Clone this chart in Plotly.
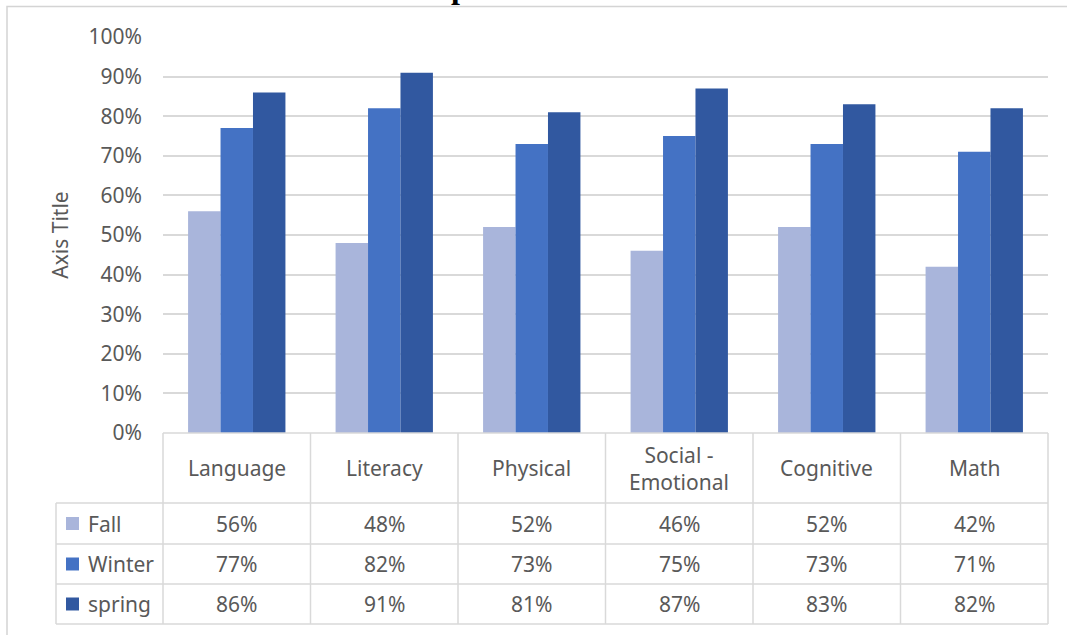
import plotly.graph_objects as go

# ---- data ----
categories = ["Language", "Literacy", "Physical", "Social - Emotional", "Cognitive", "Math"]
series_names = ["Fall", "Winter", "spring"]
fall = [0.56, 0.48, 0.52, 0.46, 0.52, 0.42]
winter = [0.77, 0.82, 0.73, 0.75, 0.73, 0.71]
spring = [0.86, 0.91, 0.81, 0.87, 0.83, 0.82]
y_tick_values = [0.0, 0.1, 0.2, 0.3, 0.4, 0.5, 0.6, 0.7, 0.8, 0.9, 1.0]
axis_title = "Axis Title"
title_fragment = "p"

# ---- style ----
colors = ["#a9b5db", "#4472c4", "#3158a0"]
W, H = 1067, 635
FONT = "Noto Sans"
TXT = "#595959"
LINE = "#d9d9d9"
FS = 21

def px(x):
    return x / W

def py(y):
    return 1 - y / H

plot_l, plot_r = 163, 1048
y_zero, y_full = 433, 37
cat_bot = 503
row_bots = [544, 584, 624]
legend_l = 56

xdom = [px(plot_l), px(plot_r)]
ydom = [py(y_zero), py(y_full)]
ncat = len(categories)
colw = (plot_r - plot_l) / ncat

series_vals = [fall, winter, spring]

fig = go.Figure()
for name, vals, c in zip(series_names, series_vals, colors):
    fig.add_trace(go.Bar(x=categories, y=vals, name=name, marker=dict(color=c, line=dict(width=0)),
                         hoverinfo="x+y+name"))

shapes = []
line = dict(color=LINE, width=1.5)
shapes.append(dict(type="line", xref="paper", yref="paper", x0=px(plot_l), x1=px(plot_r),
                   y0=py(y_zero), y1=py(y_zero), line=line))
for yb in [cat_bot] + row_bots:
    shapes.append(dict(type="line", xref="paper", yref="paper", x0=px(legend_l), x1=px(plot_r),
                       y0=py(yb), y1=py(yb), line=line))
for k in range(ncat + 1):
    xx = plot_l + k * colw
    shapes.append(dict(type="line", xref="paper", yref="paper", x0=px(xx), x1=px(xx),
                       y0=py(y_zero), y1=py(row_bots[-1]), line=line))
shapes.append(dict(type="line", xref="paper", yref="paper", x0=px(legend_l), x1=px(legend_l),
                   y0=py(cat_bot), y1=py(row_bots[-1]), line=line))
# chart frame (left and top edges visible)
shapes.append(dict(type="rect", xref="paper", yref="paper", x0=px(7), x1=px(W + 20),
                   y0=py(H + 20), y1=py(6.5), line=dict(color="#d4d4d4", width=1.5)))

annotations = []
for k, cat in enumerate(categories):
    label = cat.replace(" - ", " -<br>")
    annotations.append(dict(x=px(plot_l + (k + 0.5) * colw), y=py((y_zero + cat_bot) / 2),
                            xref="paper", yref="paper", text=label, showarrow=False,
                            font=dict(family=FONT, size=FS, color=TXT), xanchor="center",
                            yanchor="middle"))
row_tops = [cat_bot] + row_bots[:-1]
for i, (name, vals, c) in enumerate(zip(series_names, series_vals, colors)):
    yc = (row_tops[i] + row_bots[i]) / 2
    shapes.append(dict(type="rect", xref="paper", yref="paper", x0=px(66), x1=px(79),
                       y0=py(yc + 6.5), y1=py(yc - 6.5), fillcolor=c, line=dict(width=0)))
    annotations.append(dict(x=px(86), y=py(yc), xref="paper", yref="paper", text=name,
                            showarrow=False, font=dict(family=FONT, size=FS, color=TXT),
                            xanchor="left", yanchor="middle"))
    for k, v in enumerate(vals):
        annotations.append(dict(x=px(plot_l + (k + 0.5) * colw), y=py(yc), xref="paper",
                                yref="paper", text=f"{round(v * 100)}%", showarrow=False,
                                font=dict(family=FONT, size=FS, color=TXT),
                                xanchor="center", yanchor="middle"))
# chart title, cut off by the top edge of the picture (only the descender shows)
annotations.append(dict(x=px(460), y=py(7), xref="paper", yref="paper", text=title_fragment,
                        showarrow=False,
                        font=dict(family="Liberation Serif", size=32, color="#000000", weight="bold"),
                        xanchor="center", yanchor="bottom"))

fig.update_layout(
    width=W, height=H,
    margin=dict(l=0, r=0, t=0, b=0, autoexpand=False),
    paper_bgcolor="white", plot_bgcolor="white",
    barmode="group", bargap=0.34, bargroupgap=0,
    showlegend=False,
    xaxis=dict(domain=xdom, range=[-0.5, ncat - 0.5], showticklabels=False, showgrid=False,
               zeroline=False, showline=False, ticks="", automargin=False),
    yaxis=dict(domain=ydom, range=[0, 1], tickvals=y_tick_values, tickformat=".0%",
               showgrid=True, gridcolor=LINE, gridwidth=1.5, zeroline=False, showline=False,
               ticks="", ticklabelstandoff=20, automargin=False,
               tickfont=dict(family=FONT, size=FS, color=TXT),
               title=dict(text=axis_title, font=dict(family=FONT, size=FS, color=TXT), standoff=14)),
    shapes=shapes,
    annotations=annotations,
)

fig.write_html("out.html", config={"displayModeBar": False},
               post_script="document.body.style.margin='0';")
